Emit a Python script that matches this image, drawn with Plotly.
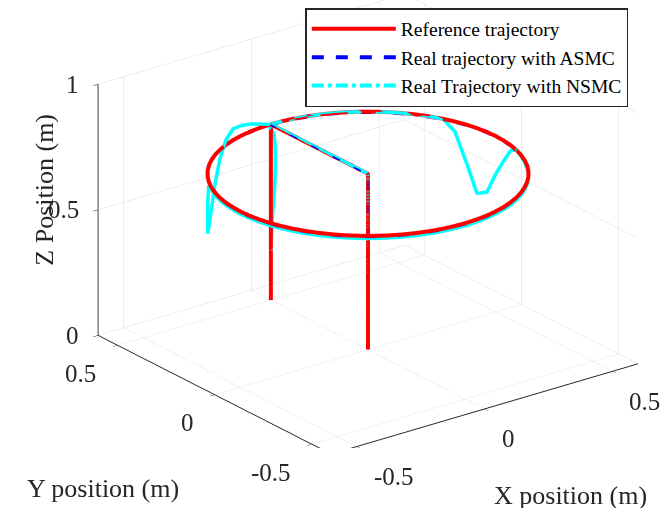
import numpy as np
import plotly.graph_objects as go

# ---- data ----
RADIUS = 0.5          # circle radius (m)
HEIGHT = 0.7          # flight altitude (m)
theta_deg = list(range(90, 455, 5))   # circle samples (deg), CCW from start point (0, 0.5)

# NSMC altitude along the circle, one value per theta sample
nsmc_z = (
    [0.70, 0.715, 0.73, 0.74, 0.745, 0.72, 0.665, 0.585, 0.505, 0.455]  # 90..135
    + [0.45, 0.59, 0.685, 0.69, 0.69, 0.69, 0.69, 0.69, 0.69, 0.69]     # 140..185
    + [0.69] * 10                                                       # 190..235
    + [0.69] * 10                                                       # 240..285
    + [0.69] * 10                                                       # 290..335
    + [0.695, 0.70, 0.68, 0.62, 0.55, 0.46, 0.44, 0.55, 0.66, 0.70]     # 340..385
    + [0.70] * 10                                                       # 390..435
    + [0.70, 0.70, 0.70]                                                # 440..450
)
# ASMC altitude along the circle (tracks reference closely)
asmc_z = [0.697] * len(theta_deg)

# landing leg of NSMC (x deviation vs altitude)
land_z = [0.70, 0.66, 0.60, 0.52, 0.45, 0.38, 0.30, 0.20, 0.10, 0.0]
nsmc_land_dx = [-0.01, 0.012, 0.018, 0.018, 0.015, 0.01, 0.004, 0.0, 0.0, 0.0]

x_ticks = [-0.5, 0, 0.5]
y_ticks = [-0.5, 0, 0.5]
z_ticks = [0, 0.5, 1]
tick_text = {-0.5: "-0.5", 0: "0", 0.5: "0.5", 1: "1"}
x_range = [-0.6, 0.6]
y_range = [-0.6, 0.6]
z_range = [0, 1]

th = np.radians(theta_deg)
cx = RADIUS * np.cos(th)
cy = RADIUS * np.sin(th)


def path(circle_z, land_dx=None):
    xs = [0, 0, 0] + list(cx)
    ys = [0, 0, RADIUS] + list(cy)
    zs = [0, HEIGHT, HEIGHT] + list(circle_z)
    dx = land_dx if land_dx is not None else [0] * len(land_z)
    xs += list(dx)
    ys += [RADIUS] * len(land_z)
    zs += list(land_z)
    return xs, ys, zs


rx, ry, rz = path([HEIGHT] * len(theta_deg))
ax_, ay_, az_ = path(asmc_z)
nx, ny, nz = path(nsmc_z, nsmc_land_dx)

names = ["Reference trajectory", "Real trajectory with ASMC", "Real Trajectory with NSMC"]
colors = ["#FF0000", "#0000FF", "#00FFFF"]
dashes = ["solid", "dash", "dashdot"]

fig = go.Figure()
fig.add_trace(go.Scatter3d(x=nx, y=ny, z=nz, mode="lines", showlegend=False, hoverinfo="skip",
                           line=dict(color=colors[2], width=7)))
fig.add_trace(go.Scatter3d(x=ax_, y=ay_, z=az_, mode="lines", showlegend=False, hoverinfo="skip",
                           line=dict(color=colors[1], width=6, dash="dash")))
fig.add_trace(go.Scatter3d(x=rx, y=ry, z=rz, mode="lines", showlegend=False, hoverinfo="skip",
                           line=dict(color=colors[0], width=8)))
# legend entries
for nm, c, d in zip(names, colors, dashes):
    fig.add_trace(go.Scatter(x=[None], y=[None], mode="lines", name=nm,
                             line=dict(color=c, width=4, dash=d)))

FONT = "Liberation Serif, Times New Roman, serif"
TXT = "#262626"
axis_common = dict(showbackground=False, gridcolor="#dcdcdc", gridwidth=1,
                   showline=True, linecolor=TXT, linewidth=2,
                   ticks="outside", ticklen=6, tickcolor=TXT,
                   zeroline=False, showspikes=False, showticklabels=False,
                   title=dict(text=""))

annots = []
for v in x_ticks:
    annots.append(dict(x=v, y=y_range[0], z=z_range[0], text=tick_text[v], showarrow=False,
                       xanchor="left", yanchor="middle", xshift=15, yshift=-30,
                       font=dict(family=FONT, size=25, color=TXT)))
for v in y_ticks:
    annots.append(dict(x=x_range[0], y=v, z=z_range[0], text=tick_text[v], showarrow=False,
                       xanchor="right", yanchor="middle", xshift=-19, yshift=-28,
                       font=dict(family=FONT, size=25, color=TXT)))
for v in z_ticks:
    annots.append(dict(x=x_range[0], y=y_range[1], z=v, text=tick_text[v], showarrow=False,
                       xanchor="right", yanchor="middle", xshift=-17, yshift=0,
                       font=dict(family=FONT, size=25, color=TXT)))
annots.append(dict(x=0.3, y=y_range[0], z=z_range[0], text="X position (m)", showarrow=False,
                   xanchor="center", yanchor="middle", xshift=9, yshift=-109,
                   font=dict(family=FONT, size=26, color=TXT)))
annots.append(dict(x=x_range[0], y=0, z=z_range[0], text="Y position (m)", showarrow=False,
                   xanchor="center", yanchor="middle", xshift=-112, yshift=-94,
                   font=dict(family=FONT, size=26, color=TXT)))
annots.append(dict(x=x_range[0], y=y_range[1], z=0.58, text="Z Position (m)", showarrow=False,
                   xanchor="center", yanchor="middle", xshift=-53, yshift=0, textangle=-90,
                   font=dict(family=FONT, size=26, color=TXT)))

S = 1.72
e = 1.0
fig.update_layout(
    width=660, height=508,
    margin=dict(l=0, r=0, t=0, b=0),
    paper_bgcolor="white", plot_bgcolor="white",
    font=dict(family=FONT, color=TXT),
    xaxis=dict(visible=False), yaxis=dict(visible=False),
    scene=dict(
        domain=dict(x=[0.115, 1.0], y=[0.118, 1.0]),
        xaxis=dict(axis_common, range=x_range, tickvals=x_ticks),
        yaxis=dict(axis_common, range=y_range, tickvals=y_ticks),
        zaxis=dict(axis_common, range=z_range, tickvals=z_ticks),
        aspectmode="manual", aspectratio=dict(x=S, y=S, z=0.707 * S),
        camera=dict(eye=dict(x=-0.558 * e, y=-0.734 * e, z=0.387 * e),
                    up=dict(x=0, y=0, z=1), center=dict(x=0, y=0, z=0),
                    projection=dict(type="orthographic")),
        annotations=annots,
    ),
    legend=dict(x=0.952, xanchor="right", y=0.984, yanchor="top",
                bgcolor="white", bordercolor="#262626", borderwidth=1.5,
                font=dict(family=FONT, size=19.5, color="black"), itemwidth=84),
)

fig.write_html("out.html")
